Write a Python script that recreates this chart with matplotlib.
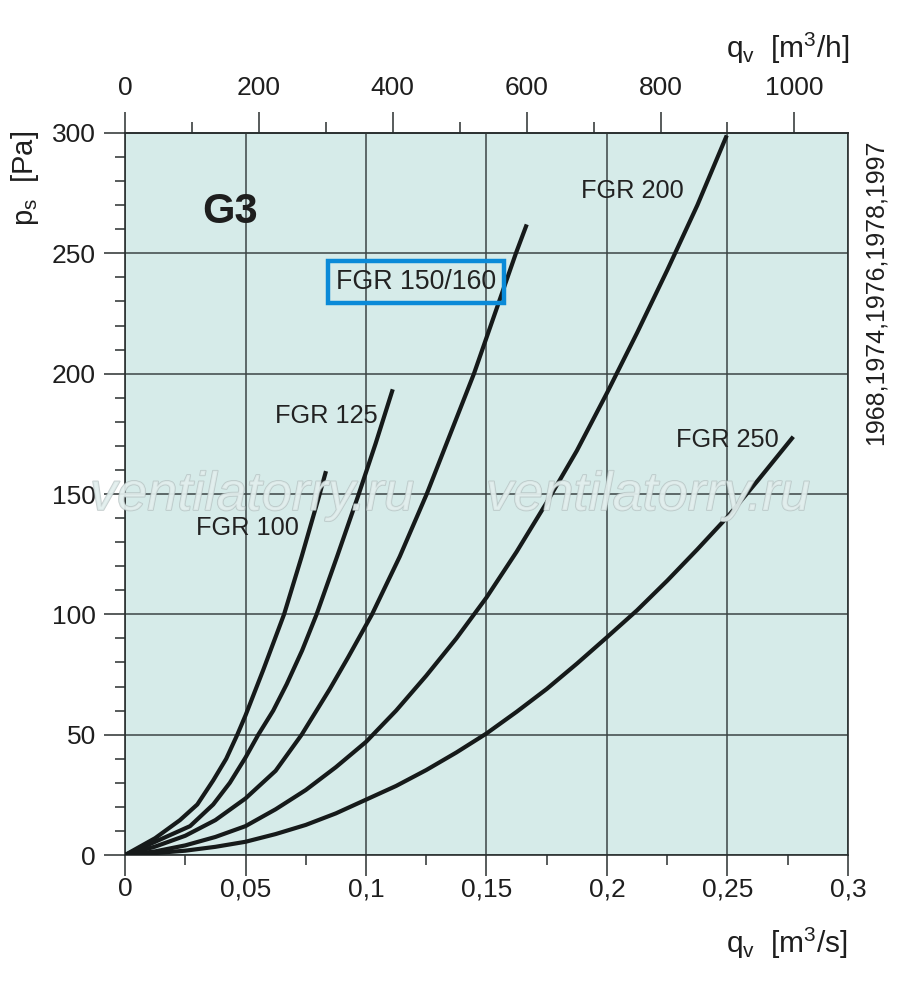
import matplotlib
matplotlib.use("Agg")
import matplotlib.pyplot as plt
import matplotlib.patheffects as pe
from matplotlib.ticker import FixedLocator, MultipleLocator

plt.rcParams['font.family'] = ['Liberation Sans', 'DejaVu Sans']
plt.rcParams['mathtext.fontset'] = 'custom'
plt.rcParams['mathtext.rm'] = 'Liberation Sans'
plt.rcParams['mathtext.it'] = 'Liberation Sans'

## curve data: q [m3/s], ps [Pa] ##
q_100 = [0, 0.0125, 0.0228, 0.03, 0.0366, 0.042, 0.0466, 0.05, 0.0574, 0.066, 0.0733, 0.0805, 0.0834]
p_100 = [0, 7, 14.5, 21, 31, 40, 50, 58, 77, 100, 124, 149, 159.5]

q_125 = [0, 0.0125, 0.027, 0.0366, 0.0435, 0.05, 0.0553, 0.0615, 0.0671, 0.0735, 0.0795, 0.088, 0.097, 0.104, 0.1111]
p_125 = [0, 5.5, 12, 21, 30, 40.5, 50, 60, 71, 85, 100, 124, 150, 171, 193.5]

q_150 = [0, 0.0125, 0.025, 0.0375, 0.05, 0.0625, 0.0733, 0.085, 0.0925, 0.1025, 0.114, 0.1252,
         0.135, 0.1448, 0.1535, 0.1622, 0.1667]
p_150 = [0, 3.5, 8, 14.5, 23.5, 35, 50, 69, 82, 100, 124, 150, 175, 200, 225, 250, 262]

q_200 = [0, 0.0125, 0.025, 0.0375, 0.05, 0.0625, 0.075, 0.0875, 0.1, 0.1125, 0.125, 0.1375, 0.15,
         0.1625, 0.175, 0.1875, 0.2, 0.2125, 0.225, 0.2375, 0.2497]
p_200 = [0, 1.5, 4, 7.5, 12, 19, 27, 36.5, 47, 60, 74.5, 90, 107, 126, 146.5, 168, 192, 217, 243,
         270, 299]

q_250 = [0, 0.0125, 0.025, 0.0375, 0.05, 0.0625, 0.075, 0.0875, 0.1, 0.1125, 0.125, 0.1375, 0.15,
         0.1625, 0.175, 0.1875, 0.2, 0.2125, 0.225, 0.2375, 0.25, 0.2625, 0.2773]
p_250 = [0, 0.8, 1.8, 3.4, 5.5, 8.7, 12.5, 17.3, 23, 28.7, 35.3, 42.6, 50.5, 59.5, 69, 79.5, 90.5,
         101.7, 114, 127, 140.5, 155.5, 173.8]

curves = [(q_100, p_100), (q_125, p_125), (q_150, p_150), (q_200, p_200), (q_250, p_250)]

## curve labels: text, left q, centre ps ##
label_text = ["FGR 100", "FGR 125", "FGR 150/160", "FGR 200", "FGR 250"]
label_q = [0.0295, 0.0622, 0.0875, 0.1892, 0.2286]
label_p = [136, 182.4, 238, 276, 172.4]

## axis ticks ##
x_ticks = [0, 0.05, 0.1, 0.15, 0.2, 0.25, 0.3]
x_ticklabels = ["0", "0,05", "0,1", "0,15", "0,2", "0,25", "0,3"]
y_ticks = [0, 50, 100, 150, 200, 250, 300]
top_ticks = [0, 200, 400, 600, 800, 1000]
top_minor = [100, 300, 500, 700, 900]

bg = '#d6ebe9'
dark = '#2a2f2f'
grid_col = '#3c4545'

fig = plt.figure(figsize=(9, 9.88), dpi=100)
ax = fig.add_axes([0.1389, 0.1346, 0.8033, 0.7308])
ax.set_facecolor(bg)

for q, p in curves:
    ax.plot(q, p, color='#161a1a', lw=3.0, solid_capstyle='butt', solid_joinstyle='round', zorder=3)

ax.set_xlim(0, 0.3)
ax.set_ylim(0, 300)

ax.xaxis.set_major_locator(FixedLocator(x_ticks))
ax.set_xticklabels(x_ticklabels)
ax.xaxis.set_minor_locator(MultipleLocator(0.025))
ax.yaxis.set_major_locator(FixedLocator(y_ticks))
ax.yaxis.set_minor_locator(MultipleLocator(10))

ax.grid(True, which='major', color=grid_col, lw=1.1, zorder=1)
ax.set_axisbelow(True)

ax.tick_params(which='major', direction='out', length=15, width=1.1, color=dark,
               labelsize=19, labelcolor='#1e1e1e', top=False, right=False)
ax.tick_params(axis='x', which='major', pad=1)
ax.tick_params(axis='y', which='major', pad=6)
ax.tick_params(which='minor', direction='out', length=7.5, width=1.1, color=dark,
               top=False, right=False)
for s in ax.spines.values():
    s.set_color(dark)
    s.set_linewidth(1.2)

## top axis in m3/h ##
top = ax.secondary_xaxis('top', functions=(lambda x: x * 3600, lambda x: x / 3600))
top.xaxis.set_major_locator(FixedLocator(top_ticks))
top.xaxis.set_minor_locator(FixedLocator(top_minor))
top.tick_params(which='major', direction='out', length=15, width=1.1, color=dark,
                labelsize=19, labelcolor='#1e1e1e', pad=9)
top.tick_params(which='minor', direction='out', length=8, width=1.1, color=dark)
top.spines['top'].set_color(dark)
top.spines['top'].set_linewidth(1.2)

## curve labels ##
for i in range(len(label_text)):
    kw = {'fontsize': 18.3}
    if label_text[i] == "FGR 150/160":
        kw['fontsize'] = 19.3
        kw['bbox'] = dict(boxstyle='square,pad=0.3', fc='none', ec='#0a8ad8', lw=3.2)
    ax.text(label_q[i], label_p[i], label_text[i], color='#222222',
            ha='left', va='center', zorder=4, **kw)

ax.text(0.032, 267, "G3", fontsize=30, fontweight='bold', color='#1e1e1e',
        ha='left', va='center', zorder=4)

## axis titles ##
fig.text(25 / 900, 1 - 178 / 988, r"$p_\mathrm{s}$  [Pa]", rotation=90,
         fontsize=21, ha='center', va='center', color='#1e1e1e')
fig.text(726 / 900, 1 - 58 / 988, r"$q_\mathrm{v}$  [m$^3$/h]",
         fontsize=21.5, ha='left', va='baseline', color='#1e1e1e')
fig.text(726 / 900, 1 - 953 / 988, r"$q_\mathrm{v}$  [m$^3$/s]",
         fontsize=21.5, ha='left', va='baseline', color='#1e1e1e')
fig.text(876 / 900, 1 - 292 / 988, "1968,1974,1976,1978,1997", rotation=90,
         fontsize=18, ha='center', va='center', color='#1e1e1e')

## watermark ##
for wx in [252, 648]:
    fig.text(wx / 900, 1 - 496 / 988, "ventilatorry.ru", fontsize=39, style='italic',
             ha='center', va='center', color='#e3efee', alpha=0.75, zorder=5,
             path_effects=[pe.withStroke(linewidth=1.2, foreground='#b3bfbf')])

fig.savefig("out.png", dpi=100)
